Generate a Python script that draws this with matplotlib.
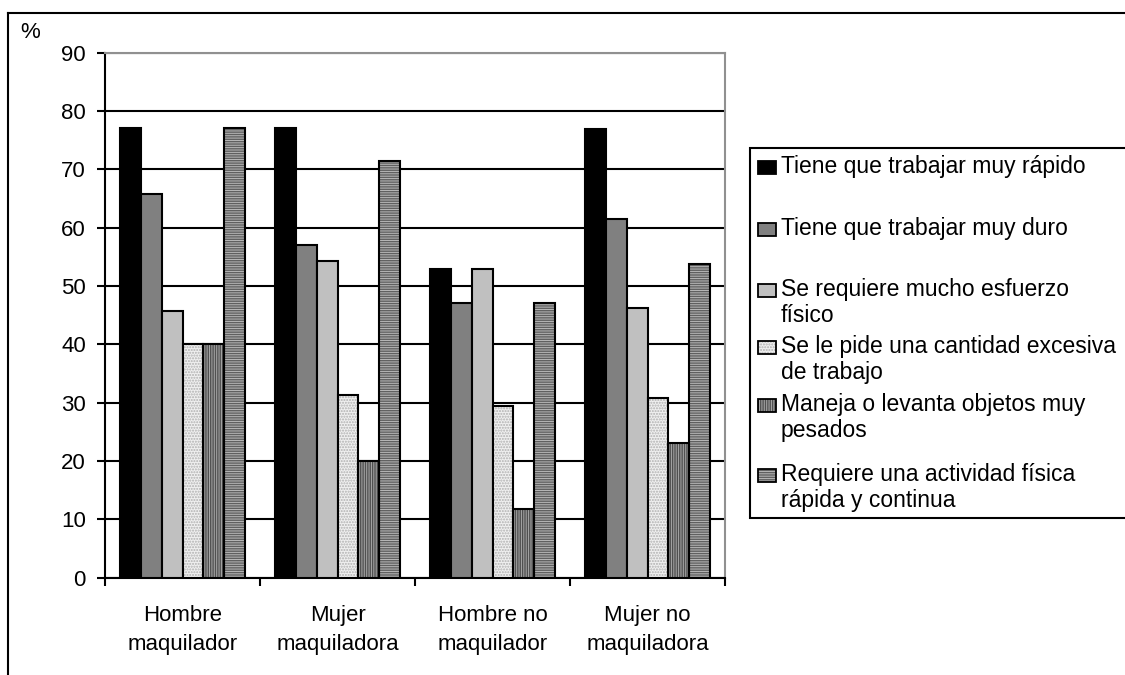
import numpy as np
import matplotlib
matplotlib.use("Agg")
import matplotlib.pyplot as plt
from matplotlib.lines import Line2D
from matplotlib.patches import Rectangle

plt.rcParams["font.family"] = ["Liberation Sans", "DejaVu Sans"]
plt.rcParams["hatch.linewidth"] = 1.0

# Data (percent)
categories = ["Hombre\nmaquilador", "Mujer\nmaquiladora", "Hombre no\nmaquilador", "Mujer no\nmaquiladora"]
series_names = [
    "Tiene que trabajar muy rápido",
    "Tiene que trabajar muy duro",
    "Se requiere mucho esfuerzo\nfísico",
    "Se le pide una cantidad excesiva\nde trabajo",
    "Maneja o levanta objetos muy\npesados",
    "Requiere una actividad física\nrápida y continua",
]
rapido = [77.1, 77.1, 52.9, 76.9]
duro = [65.7, 57.1, 47.1, 61.5]
esfuerzo = [45.7, 54.3, 52.9, 46.2]
excesiva = [40.0, 31.4, 29.4, 30.8]
pesados = [40.0, 20.0, 11.8, 23.1]
continua = [77.1, 71.4, 47.1, 53.8]
values = [rapido, duro, esfuerzo, excesiva, pesados, continua]

# fill colour, hatch, hatch colour
styles = [
    ("#000000", None, None),
    ("#808080", None, None),
    ("#c0c0c0", None, None),
    ("#f0f0f0", "......", "#b0b0b0"),
    ("#a8a8a8", "|||||||", "#505050"),
    ("#b8b8b8", "-------", "#606060"),
]

W, H = 1125, 675
FS = 16
fig = plt.figure(figsize=(W / 100, H / 100), dpi=100)
ax = fig.add_axes([105 / W, 1 - 577.7 / H, 620 / W, 525 / H])

x = np.arange(len(categories))
w = 0.135
for i, (vals, (fc, hatch, hc)) in enumerate(zip(values, styles)):
    pos = x + (i - 2.5) * w
    if hatch:
        ax.bar(pos, vals, w, color=fc, hatch=hatch, edgecolor=hc, linewidth=0, zorder=3)
        ax.bar(pos, vals, w, facecolor="none", edgecolor="black", linewidth=1.5, zorder=4)
    else:
        ax.bar(pos, vals, w, color=fc, edgecolor="black", linewidth=1.5, zorder=3)

ax.set_xlim(-0.5, 3.5)
ax.set_ylim(0, 90)
ax.set_yticks(range(0, 91, 10))
ax.yaxis.grid(True, color="black", linewidth=1.5, zorder=0)
ax.set_axisbelow(True)
ax.tick_params(axis="y", labelsize=FS, length=5.8, width=1.5, direction="out", pad=8)

ax.set_xticks(x)
ax.set_xticklabels(categories, fontsize=FS, linespacing=1.45)
ax.set_xticks(np.arange(-0.5, 3.6, 1), minor=True)
ax.tick_params(axis="x", which="major", length=0, pad=20)
ax.tick_params(axis="x", which="minor", length=5.5, width=1.5, direction="out")

for s in ["left", "bottom"]:
    ax.spines[s].set_color("black")
    ax.spines[s].set_linewidth(1.5)
for s in ["top", "right"]:
    ax.spines[s].set_color("#909090")
    ax.spines[s].set_linewidth(1.5)

fig.text(30 / W, 1 - 32 / H, "%", fontsize=FS, ha="center", va="center")

# legend drawn by hand: Excel puts each key next to the first line of its entry
fig.add_artist(Rectangle((750 / W, 1 - 518 / H), 400 / W, 370 / H, transform=fig.transFigure,
                         facecolor="white", edgecolor="black", linewidth=1.5, zorder=1))
baselines = [173, 235, 296, 353, 411, 481]
for name, (fc, hatch, hc), b in zip(series_names, styles, baselines):
    key = (758 / W, 1 - (b + 1) / H)
    if hatch:
        fig.add_artist(Rectangle(key, 18 / W, 13 / H, transform=fig.transFigure,
                                 facecolor=fc, hatch=hatch, edgecolor=hc, linewidth=0, zorder=2))
        fig.add_artist(Rectangle(key, 18 / W, 13 / H, transform=fig.transFigure,
                                 facecolor="none", edgecolor="black", linewidth=1.3, zorder=3))
    else:
        fig.add_artist(Rectangle(key, 18 / W, 13 / H, transform=fig.transFigure,
                                 facecolor=fc, edgecolor="black", linewidth=1.3, zorder=3))
    fig.text(781 / W, 1 - b / H, name.split("\n")[0], fontsize=FS + 0.5, va="baseline", ha="left")
    if "\n" in name:
        fig.text(781 / W, 1 - (b + 26) / H, name.split("\n")[1], fontsize=FS + 0.5,
                 va="baseline", ha="left")

# outer chart border (runs off the right and bottom)
fig.add_artist(Line2D([8 / W, 1.01], [1 - 13 / H] * 2, color="black", linewidth=1.5))
fig.add_artist(Line2D([8 / W] * 2, [1 - 13 / H, -0.01], color="black", linewidth=1.5))

fig.savefig("out.png", dpi=100)
